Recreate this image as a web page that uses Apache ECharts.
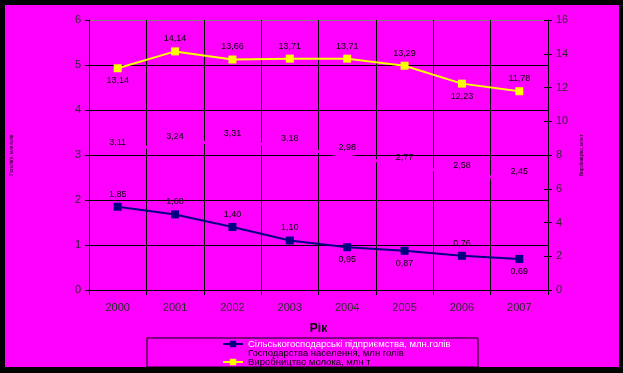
<!DOCTYPE html>
<html>
<head>
<meta charset="utf-8">
<script src="https://cdn.jsdelivr.net/npm/echarts@6/dist/echarts.min.js"></script>
<style>html,body{margin:0;padding:0;background:#000;}#c{width:623px;height:373px;}</style>
</head>
<body>
<div id="c"></div>
<script>
const years = ['2000','2001','2002','2003','2004','2005','2006','2007'];
const enterprises = [1.85, 1.68, 1.40, 1.10, 0.95, 0.87, 0.76, 0.69];
const households = [3.11, 3.24, 3.31, 3.18, 2.98, 2.77, 2.58, 2.45];
const milk = [13.14, 14.14, 13.66, 13.71, 13.71, 13.29, 12.23, 11.78];
const enterprisesLabelPos = ['top','top','top','top','bottom','bottom','top','bottom'];
const milkLabelPos = ['bottom','top','top','top','top','top','bottom','top'];
const seriesNames = ['Сільськогосподарські підприємства, млн.голів','Господарства населення, млн голів','Виробництво молока, млн т'];

const FONT = 'Liberation Sans';
const fmt = p => p.value.toFixed(2).replace('.', ',');
const lbl = {show:true, fontFamily:FONT, fontSize:9, color:'#000', formatter:fmt};

function legendFor(i, top, color){
  return {
    orient:'vertical', left:222, top:top, padding:0, itemGap:0, itemWidth:20, itemHeight:8,
    textStyle:{fontFamily:FONT, fontSize:9.5, color:color},
    data:[seriesNames[i]]
  };
}

const chart = echarts.init(document.getElementById('c'));
chart.setOption({
  backgroundColor:'#000',
  animation:false,
  textStyle:{fontFamily:FONT},
  graphic:[
    {type:'rect', z:-10, shape:{x:5,y:5,width:614,height:362}, style:{fill:'#ff00ff'}},
    {type:'rect', z:10, shape:{x:147,y:338,width:331,height:29}, style:{fill:'none', stroke:'#000', lineWidth:1}},
    {type:'rect', z:100, shape:{x:0,y:367,width:623,height:6}, style:{fill:'#000'}}
  ],
  grid:{left:89, right:75, top:20, bottom:83},
  legend:[legendFor(0, 339, '#fff'), legendFor(1, 348, '#000'), legendFor(2, 357, '#000')],
  xAxis:{
    type:'category', data:years, boundaryGap:true,
    name:'Рік', nameLocation:'middle', nameGap:33,
    nameTextStyle:{fontFamily:FONT, fontSize:12, fontWeight:'bold', color:'#000'},
    axisLine:{lineStyle:{color:'#000', width:1}},
    axisTick:{show:true, length:5, lineStyle:{color:'#000'}},
    axisLabel:{fontFamily:FONT, fontSize:11, color:'#2a2a2a', margin:12},
    splitLine:{show:true, lineStyle:{color:'#000', width:1}}
  },
  yAxis:[
    {
      type:'value', min:0, max:6, interval:1, position:'left',
      name:"Поголів'я, млн голів", nameLocation:'middle', nameRotate:90, nameGap:75,
      nameTextStyle:{fontFamily:FONT, fontSize:4.5, color:'#000'},
      axisLine:{show:true, lineStyle:{color:'#000'}},
      axisTick:{show:true, length:4, lineStyle:{color:'#000'}},
      axisLabel:{fontFamily:FONT, fontSize:11, color:'#2a2a2a', margin:8},
      splitLine:{show:true, lineStyle:{color:['#000','#000','#000','#000','#000','#000','#808080'], width:1}}
    },
    {
      type:'value', min:0, max:16, interval:2, position:'right',
      name:'Виробництво, млн т', nameLocation:'middle', nameRotate:90, nameGap:26,
      nameTextStyle:{fontFamily:FONT, fontSize:4.5, color:'#000'},
      axisLine:{show:true, lineStyle:{color:'#000'}},
      axisTick:{show:true, length:4, lineStyle:{color:'#000'}},
      axisLabel:{fontFamily:FONT, fontSize:11, color:'#2a2a2a', margin:8},
      splitLine:{show:false}
    },
    {
      type:'value', min:0, max:16, interval:2, position:'right',
      axisLine:{show:false},
      axisTick:{show:true, inside:true, length:4, lineStyle:{color:'#000'}},
      axisLabel:{show:false},
      splitLine:{show:false}
    }
  ],
  series:[
    {
      name:seriesNames[1], type:'line', yAxisIndex:0, data:households,
      symbol:'rect', symbolSize:1, showSymbol:true, z:3,
      lineStyle:{color:'#ff00ff', width:3}, itemStyle:{color:'#ff00ff'},
      label:Object.assign({}, lbl, {position:'top', distance:3})
    },
    {
      name:seriesNames[0], type:'line', yAxisIndex:0,
      data:enterprises.map((v,i)=>({value:v, label:{position:enterprisesLabelPos[i]}})),
      symbol:'rect', symbolSize:8, z:4,
      lineStyle:{color:'#000080', width:2}, itemStyle:{color:'#000080'},
      label:Object.assign({}, lbl, {distance:4})
    },
    {
      name:seriesNames[2], type:'line', yAxisIndex:1,
      data:milk.map((v,i)=>({value:v, label:{position:milkLabelPos[i]}})),
      symbol:'rect', symbolSize:8, z:4,
      lineStyle:{color:'#ffff00', width:2}, itemStyle:{color:'#ffff00'},
      label:Object.assign({}, lbl, {distance:4})
    }
  ]
});
</script>
</body>
</html>
